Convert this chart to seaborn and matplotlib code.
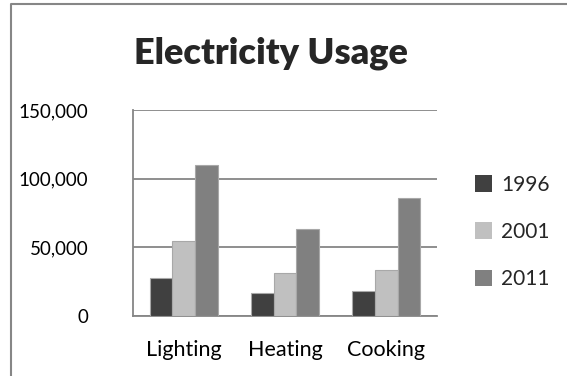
import matplotlib
matplotlib.use("Agg")
import matplotlib.pyplot as plt
import seaborn as sns
import pandas as pd
from matplotlib.lines import Line2D
from matplotlib.patches import Patch
from matplotlib.ticker import FuncFormatter

categories = ["Lighting", "Heating", "Cooking"]
years = ["1996", "2001", "2011"]
v1996 = [28000, 17000, 18500]
v2001 = [54500, 31500, 33500]
v2011 = [110000, 63500, 86000]
colors = ["#404040", "#c0c0c0", "#808080"]

rows = []
for y, vals in zip(years, [v1996, v2001, v2011]):
    for c, v in zip(categories, vals):
        rows.append({"Category": c, "Year": y, "Value": v})
df = pd.DataFrame(rows)

sns.set_style("white")
plt.rcParams["font.family"] = ["Lato", "DejaVu Sans"]

fig = plt.figure(figsize=(5.67, 3.76), dpi=100)
ax = fig.add_axes([133/567, 1-316/376, (437-133)/567, (316-110)/376])

sns.barplot(data=df, x="Category", y="Value", hue="Year", palette=colors,
            width=0.67, ax=ax, edgecolor="#a8a8a8", linewidth=0.8,
            legend=False, zorder=3)

gray = "#868686"
ax.set_ylim(0, 150000)
ax.set_yticks([0, 50000, 100000, 150000])
ax.yaxis.set_major_formatter(FuncFormatter(lambda v, p: f"{int(v):,}"))
ax.grid(axis="y", color=gray, linewidth=1.3, zorder=0)
ax.set_axisbelow(True)
for s in ["top", "right"]:
    ax.spines[s].set_visible(False)
for s in ["left", "bottom"]:
    ax.spines[s].set_color(gray)
    ax.spines[s].set_linewidth(1.3)
ax.tick_params(axis="y", length=0, pad=32, labelsize=13.5, colors="black")
ax.tick_params(axis="x", length=0, pad=17, labelsize=15.5, colors="black")
ax.set_xlabel("")
ax.set_ylabel("")

fig.text(271/567, 1-53/376, "Electricity Usage", ha="center", va="center",
         fontsize=26, fontweight="heavy")

handles = [Patch(facecolor=c, edgecolor="none") for c in colors]
fig.legend(handles, years, loc="center left", bbox_to_anchor=(456/567, 1-232/376),
           frameon=False, fontsize=15, handlelength=0.85, handleheight=0.85,
           handletextpad=0.4, labelspacing=1.3)

fig.add_artist(Line2D([11/567, 11/567, 1.0], [0.0, 1-4/376, 1-4/376],
                      transform=fig.transFigure, color=gray, linewidth=1.5))

fig.savefig("out.png", dpi=100)
